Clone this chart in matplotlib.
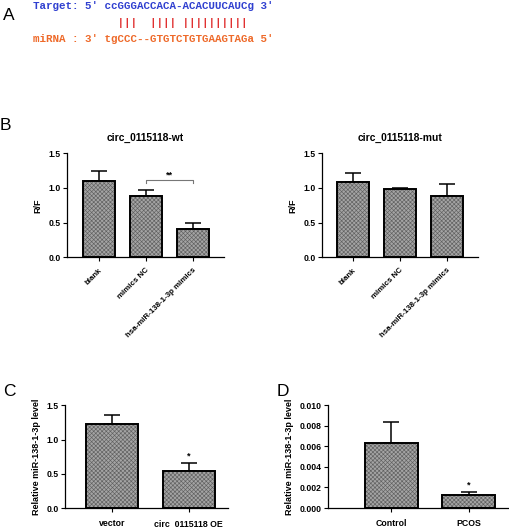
import matplotlib
matplotlib.use("Agg")
import matplotlib.pyplot as plt
import numpy as np

# Data
target_seq = "Target: 5' ccGGGACCACA-ACACUUCAUCg 3'"
pair_marks = "             |||  |||| ||||||||||"
mirna_seq = "miRNA : 3' tgCCC--GTGTCTGTGAAGTAGa 5'"

b_groups = ["blank", "mimics NC", "hsa-miR-138-1-3p mimics"]
b_wt_mean = [1.10, 0.88, 0.40]
b_wt_err = [0.14, 0.09, 0.09]
b_mut_mean = [1.09, 0.98, 0.88]
b_mut_err = [0.12, 0.02, 0.18]

c_groups = ["vector", "circ_0115118 OE"]
c_mean = [1.22, 0.54]
c_err = [0.14, 0.12]

d_groups = ["Control", "PCOS"]
d_mean = [0.0063, 0.0013]
d_err = [0.0021, 0.0003]

plt.rcParams['font.family'] = ['Liberation Sans', 'DejaVu Sans']
plt.rcParams['hatch.linewidth'] = 0.45

fig = plt.figure(figsize=(5.10, 5.27), dpi=100)


def bar_panel(rect, groups, means, errs, xlim, ylim, yticks, fmt, ylabel, title=None, rotate=False):
    ax = fig.add_axes(rect)
    x = np.arange(len(groups))
    ax.bar(x, means, width=0.68, color='#a4a4a4', edgecolor='#606060', hatch='xxxxxxxx', linewidth=0, zorder=2)
    ax.bar(x, means, width=0.68, fill=False, edgecolor='black', linewidth=1.4, zorder=3)
    ax.errorbar(x, means, yerr=[np.zeros(len(errs)), errs], fmt='none', ecolor='black',
                elinewidth=1.1, capsize=6, capthick=1.1, zorder=1)
    ax.set_xlim(xlim)
    ax.set_ylim(ylim)
    ax.set_yticks(yticks)
    ax.set_yticklabels([fmt.format(v) for v in yticks], fontsize=6.2, fontweight='bold')
    ax.set_xticks(x)
    if rotate:
        ax.set_xticklabels(groups, rotation=45, ha='right', rotation_mode='anchor', fontsize=5.7, fontweight='bold')
        ax.tick_params(axis='x', pad=4)
    else:
        ax.set_xticklabels(groups, fontsize=6.3, fontweight='bold')
        ax.tick_params(axis='x', pad=5)
    ax.tick_params(length=3, width=0.8)
    ax.tick_params(axis='y', pad=1.5)
    for s in ['top', 'right']:
        ax.spines[s].set_visible(False)
    for s in ['left', 'bottom']:
        ax.spines[s].set_linewidth(0.9)
    ax.set_ylabel(ylabel, fontsize=6.5, fontweight='bold', labelpad=4)
    if title:
        ax.set_title(title, fontsize=7.4, fontweight='bold', pad=9)
    return ax


# Panel A: sequence alignment
fig.text(0.006, 0.970, "A", fontsize=12.5, va='center')
mono = dict(family='Liberation Mono', fontweight='bold', fontsize=7.8, va='center', ha='left')
fig.text(0.064, 0.988, target_seq, color='#3040d0', **mono)
fig.text(0.064, 0.957, pair_marks, color='#e03030', **mono)
fig.text(0.064, 0.926, mirna_seq, color='#ee6a2a', **mono)

# Panel B
fig.text(0.0, 0.761, "B", fontsize=12.5, va='center')
ax_wt = bar_panel([0.131, 0.512, 0.308, 0.197], b_groups, b_wt_mean, b_wt_err,
                  (-0.68, 2.66), (0, 1.5), [0.0, 0.5, 1.0, 1.5], "{:.1f}", "R/F",
                  title="circ_0115118-wt", rotate=True)
ax_wt.plot([1, 1, 2, 2], [1.07, 1.11, 1.11, 1.07], color='#777777', lw=0.8, zorder=4)
ax_wt.text(1.5, 1.12, "**", ha='center', va='bottom', fontsize=6.5, fontweight='bold')

bar_panel([0.631, 0.512, 0.306, 0.197], b_groups, b_mut_mean, b_mut_err,
          (-0.66, 2.66), (0, 1.5), [0.0, 0.5, 1.0, 1.5], "{:.1f}", "R/F",
          title="circ_0115118-mut", rotate=True)

# Panel C
fig.text(0.006, 0.258, "C", fontsize=12.5, va='center')
ax_c = bar_panel([0.127, 0.036, 0.320, 0.195], c_groups, c_mean, c_err,
                 (-0.61, 1.51), (0, 1.5), [0.0, 0.5, 1.0, 1.5], "{:.1f}",
                 "Relative miR-138-1-3p level")
ax_c.text(1, c_mean[1] + c_err[1] + 0.03, "*", ha='center', va='bottom', fontsize=6.5, fontweight='bold')

# Panel D
fig.text(0.543, 0.258, "D", fontsize=12.5, va='center')
ax_d = bar_panel([0.643, 0.036, 0.353, 0.195], d_groups, d_mean, d_err,
                 (-0.81, 1.5), (0, 0.010), [0.000, 0.002, 0.004, 0.006, 0.008, 0.010], "{:.3f}",
                 "Relative miR-138-1-3p level")
ax_d.text(1, d_mean[1] + d_err[1] + 0.0002, "*", ha='center', va='bottom', fontsize=6.5, fontweight='bold')

fig.savefig("out.png", dpi=100)
